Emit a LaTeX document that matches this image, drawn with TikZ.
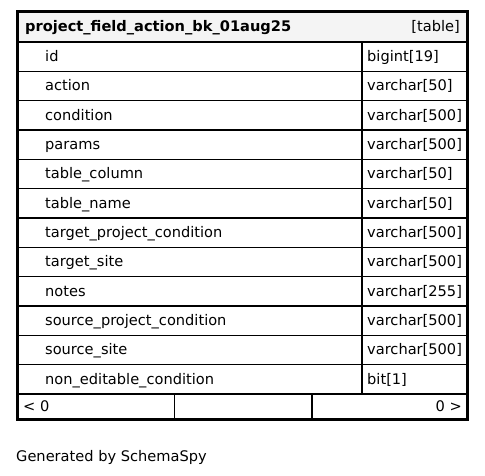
\documentclass[tikz,border=0pt]{standalone}
\usepackage{fontspec}
\setmainfont{DejaVu Sans}
\begin{document}
\begin{tikzpicture}[x=1pt,y=-1pt,
  txt/.style={inner sep=0pt,font=\fontsize{14.6}{17}\selectfont,text=black},
  hdr/.style={txt,font=\fontsize{14.6}{17}\selectfont\bfseries},
  grid/.style={line width=1.3pt,draw=black},
  frame/.style={line width=3pt,draw=black}]
\useasboundingbox (0,0) rectangle (485,476);
\fill[white] (0,0) rectangle (485,476);
\def\rh{29.33}
% header background
\fill[fill={rgb,255:red,244;green,244;blue,244}] (17,12) rectangle (467,42);
\node[hdr,anchor=base west] (title) at (25,31.5) {project\_field\_action\_bk\_01aug25};
\node[txt,anchor=base east] (kind) at (460,31.5) {[table]};
% rows
\foreach \n/\t [count=\i from 0] in {id/bigint[19],action/varchar[50],condition/varchar[500],params/varchar[500],table\_column/varchar[50],table\_name/varchar[50],target\_project\_condition/varchar[500],target\_site/varchar[500],notes/varchar[255],source\_project\_condition/varchar[500],source\_site/varchar[500],non\_editable\_condition/bit[1]}{
  \pgfmathsetmacro\yb{42+\rh*\i+19.5}
  \node[txt,anchor=base west] (c\i) at (45,\yb) {\n};
  \node[txt,anchor=base west] (t\i) at (367,\yb) {\t};
  \pgfmathsetmacro\yl{42+\rh*(\i+1)}
  \draw[grid] (17,\yl) -- (467,\yl);
}
\draw[grid] (17,42) -- (467,42);
\draw[grid] (362,42) -- (362,394);
% footer
\draw[grid] (174.5,394) -- (174.5,419);
\draw[grid] (312,394) -- (312,419);
\node[txt,anchor=base west] (fl) at (23,411) {< 0};
\node[txt,anchor=base east] (fr) at (462,411) {0 >};
% outer frame
\draw[frame] (17,12) rectangle (467,419);
\node[txt,anchor=base west] (gen) at (16,461) {Generated by SchemaSpy};
\end{tikzpicture}
\end{document}
